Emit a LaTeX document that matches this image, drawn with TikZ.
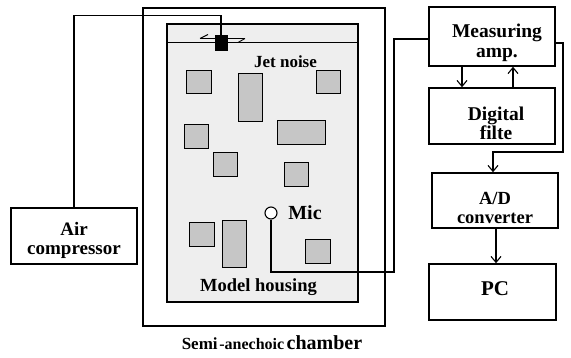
\documentclass[tikz,border=0pt]{standalone}
\usepackage{fontspec}
\setmainfont{Liberation Serif}
\usetikzlibrary{arrows.meta}
\begin{document}
\begin{tikzpicture}[x=1pt,y=-1pt,
  box/.style={draw,line width=1.5pt,inner sep=0pt,minimum width=126pt},
  lbl/.style={align=center,inner sep=0pt,font=\bfseries\fontsize{19.5}{19.5}\selectfont},
  gbox/.style={draw,line width=1pt,fill=gray!45},
  conn/.style={line width=1.1pt},
  arr/.style={line width=1.1pt,-{Straight Barb[length=6pt,width=10pt,line width=1.1pt]}}]
\useasboundingbox (0,0) rectangle (571,358);
% chamber and housing
\node[draw,line width=2pt,minimum width=242pt,minimum height=318pt,inner sep=0pt] (chamber) at (264,167) {};
\node[draw,line width=1.3pt,fill=gray!13,minimum width=191pt,minimum height=278pt,inner sep=0pt] (housing) at (262.5,163) {};
\draw[line width=1.1pt] ([yshift=-19pt]housing.north west) -- ([yshift=-19pt]housing.north east);
% gray blocks
\draw[gbox] (186,71) rectangle (211,94);
\draw[gbox] (238,74) rectangle (262,122);
\draw[gbox] (316,71) rectangle (340,94);
\draw[gbox] (184,125) rectangle (208,149);
\draw[gbox] (277,121) rectangle (325,145);
\draw[gbox] (213,153) rectangle (237,177);
\draw[gbox] (284,163) rectangle (308,187);
\draw[gbox] (189,223) rectangle (214,247);
\draw[gbox] (222,221) rectangle (246,268);
\draw[gbox] (305,240) rectangle (330,264);
% nozzle
\draw[line width=0.9pt] (200,38.5) -- (245,38.5);
\draw[line width=0.9pt] (200,38.5) -- (208,34.5);
\draw[line width=0.9pt] (238,42.5) -- (245,38.5);
\node[fill=black,minimum width=13pt,minimum height=16pt,inner sep=0pt] (nozzle) at (221,43.5) {};
% mic
\node[draw,circle,fill=white,line width=1.1pt,minimum size=12pt,inner sep=0pt] (mic) at (271,213) {};
% texts in housing
\node[lbl,font=\bfseries\fontsize{17}{17}\selectfont] (jet) at (285.5,62) {Jet noise};
\node[lbl,font=\bfseries\fontsize{20}{20}\selectfont] (mict) at (305,213) {Mic};
\node[lbl,font=\bfseries\fontsize{18.5}{18.5}\selectfont] (mh) at (258.5,287) {Model housing};
\node[inner sep=0pt,anchor=base] (semi) at (272,350) {\bfseries{\fontsize{17}{17}\selectfont Semi}\,{\fontsize{16}{16}\selectfont -anechoic} {\fontsize{20}{20}\selectfont chamber}};
% air compressor
\node[box,minimum height=56pt] (air) at (74,236) {};
\node[lbl,font=\bfseries\fontsize{19}{19}\selectfont] (airt) at (74,240) {Air\\compressor};
% right column
\node[box,minimum height=59pt] (ma) at (492,36.5) {};
\node[lbl] (mat) at (497,43) {Measuring\\amp.};
\node[box,minimum height=56pt] (df) at (492,116) {};
\node[lbl] (dft) at (496,123.5) {Digital\\filte};
\node[box,minimum height=55pt] (ad) at (495,200.5) {};
\node[lbl,font=\bfseries\fontsize{18.5}{18.5}\selectfont] (adt) at (495,208) {A/D\\converter};
\node[box,minimum width=127pt,minimum height=56pt] (pc) at (492.5,292) {};
\node[lbl,font=\bfseries\fontsize{21}{21}\selectfont] (pct) at (495,288.5) {PC};
% connectors
\draw[conn] (air.north) -- ++(0,-192) -| (nozzle.north);
\coordinate (mbend) at (394,272);
\draw[conn] (mic.south) |- (mbend) |- ([yshift=-2.5pt]ma.west);
\draw[arr] ([xshift=-30pt]ma.south) -- ([xshift=-30pt]df.north);
\draw[arr] ([xshift=21pt]df.north) -- ([xshift=21pt]ma.south);
\coordinate (rbend) at (563,152);
\draw[arr] ([yshift=-6.5pt]ma.east) -| (rbend) -| ([xshift=-2pt]ad.north);
\draw[arr] ([xshift=1pt]ad.south) -- ([xshift=1pt]ad.south |- pc.north);
\end{tikzpicture}
\end{document}
